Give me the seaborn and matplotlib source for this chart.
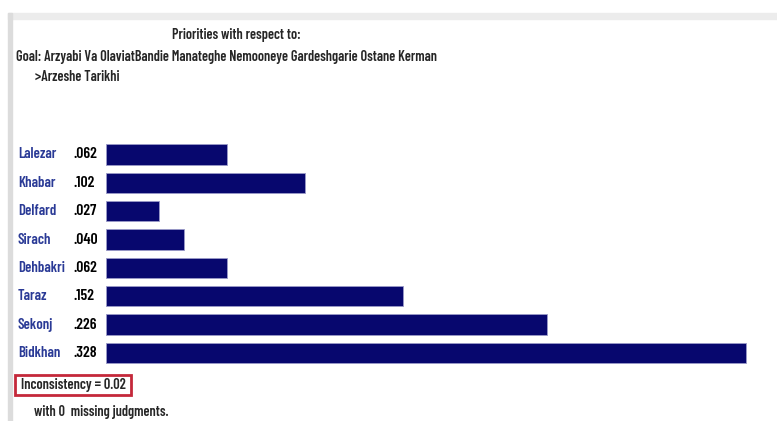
import matplotlib
matplotlib.use("Agg")
import matplotlib.pyplot as plt
import matplotlib.transforms as mtransforms
from matplotlib.patches import Rectangle
import seaborn as sns
import pandas as pd

# data
names = ["Lalezar", "Khabar", "Delfard", "Sirach", "Dehbakri", "Taraz", "Sekonj", "Bidkhan"]
priorities = [0.062, 0.102, 0.027, 0.040, 0.062, 0.152, 0.226, 0.328]
value_labels = [".062", ".102", ".027", ".040", ".062", ".152", ".226", ".328"]

title_line = "Priorities with respect to:"
goal_line = "Goal: Arzyabi Va OlaviatBandie Manateghe Nemooneye Gardeshgarie Ostane Kerman"
node_line = ">Arzeshe Tarikhi"
inconsistency = "Inconsistency = 0.02"
missing_line = "with 0  missing judgments."

BAR_COLOR = "#07076e"
NAME_COLOR = "#2a3a96"

sns.set_style("white")
plt.rcParams["font.family"] = ["Barlow Condensed", "Fira Sans Extra Condensed", "DejaVu Sans"]
WT = "semibold"

W, H = 777, 421
fig = plt.figure(figsize=(W / 100, H / 100), dpi=100)
renderer = fig.canvas.get_renderer()

def fx(px):
    return px / W

def fy(py):
    return 1 - py / H

def fit(t, target_px):
    # resize a text so it is about as wide as in the reference
    w = t.get_window_extent(renderer=renderer).width
    t.set_fontsize(t.get_fontsize() * target_px / w)
    return t.get_fontsize()

# window frame (light gray)
fig.patches.append(Rectangle((fx(8), fy(19)), fx(769), 6 / H, transform=fig.transFigure,
                             color="#ececec", zorder=0))
fig.patches.append(Rectangle((fx(8), 0), fx(4), fy(13), transform=fig.transFigure,
                             color="#dcdcdc", zorder=0))

goal = fig.text(fx(16), fy(57), goal_line, ha="left", va="center", fontsize=11, fontweight=WT)
FS = fit(goal, 425)

# bars: 0 at px 106, ~1952 px per unit
px_per_unit = 1952
ax_left, ax_right = 106, 777
row0, step = 154.5, 28.35
ax_top = row0 - step / 2
ax_bot = row0 + step * 7.5
ax = fig.add_axes([fx(ax_left), fy(ax_bot), (ax_right - ax_left) / W, (ax_bot - ax_top) / H])

df = pd.DataFrame({"name": names, "priority": priorities})
sns.barplot(data=df, x="priority", y="name", orient="h", color=BAR_COLOR,
            saturation=1, width=0.72, edgecolor="#9a9ac8", linewidth=0.6, ax=ax)
ax.set_xlim(0, (ax_right - ax_left) / px_per_unit)
ax.set_ylim(len(names) - 0.5, -0.5)
ax.set_axis_off()

# row labels
trans = mtransforms.blended_transform_factory(fig.transFigure, ax.transData)
probe = fig.text(0, 0, value_labels[0], fontsize=11, fontweight=WT)
VFS = fit(probe, 24)
probe.remove()
for i, (n, v) in enumerate(zip(names, value_labels)):
    ax.text(fx(18), i, n, transform=trans, ha="left", va="center",
            fontsize=FS * 1.05, color=NAME_COLOR, fontweight=WT)
    ax.text(fx(73), i, v, transform=trans, ha="left", va="center",
            fontsize=VFS, color="black", fontweight=WT)

# header text
fig.text(fx(236), fy(35), title_line, ha="center", va="center", fontsize=FS, fontweight=WT)
fig.text(fx(35), fy(77), node_line, ha="left", va="center", fontsize=FS, fontweight=WT)

# inconsistency box
fig.patches.append(Rectangle((fx(15), fy(395)), fx(116), 20 / H, transform=fig.transFigure,
                             facecolor="white", edgecolor="#c4283a", linewidth=2, zorder=1))
inc = fig.text(fx(21), fy(385), inconsistency, ha="left", va="center", fontsize=FS,
               fontweight=WT, zorder=2)
fit(inc, 105)
fig.text(fx(34), fy(412), missing_line, ha="left", va="center", fontsize=FS, fontweight=WT)

fig.savefig("out.png", dpi=100, facecolor="white")
